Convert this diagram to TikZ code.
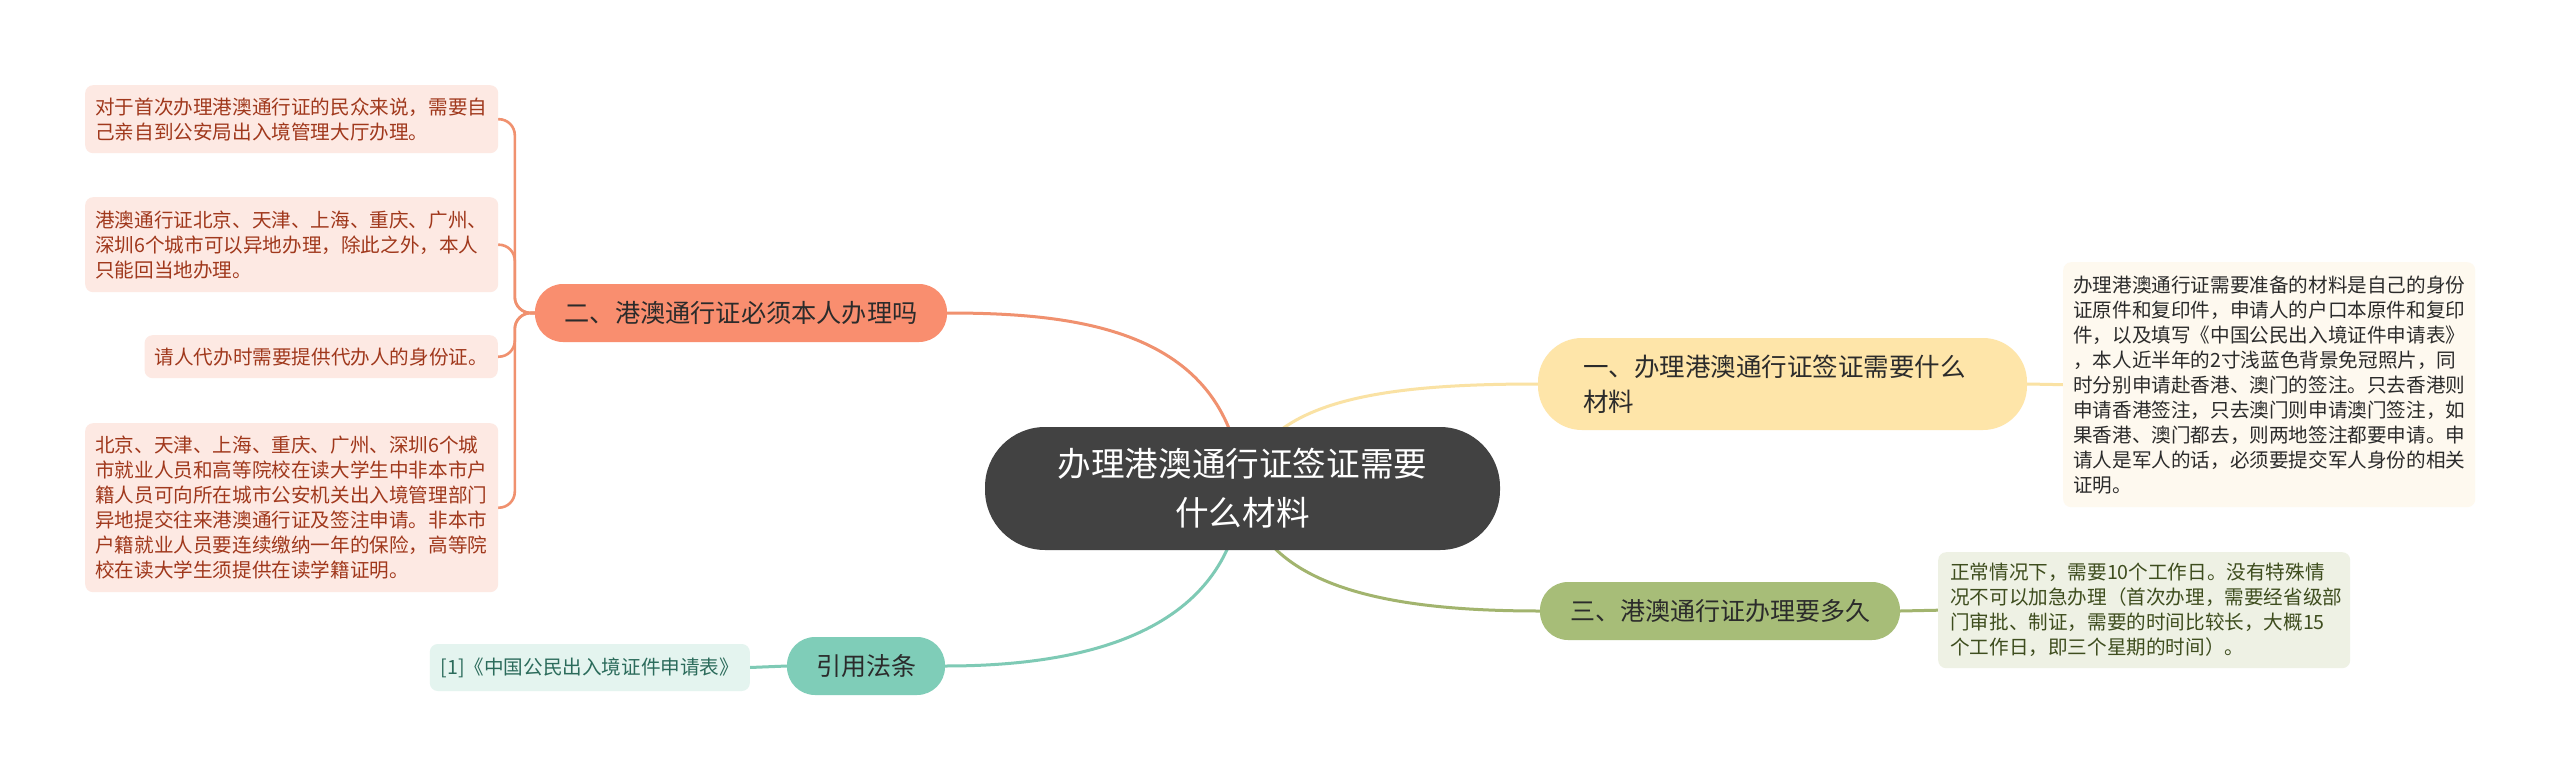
\documentclass[tikz,border=0pt]{standalone}
\usepackage{fontspec}
\setmainfont{Noto Sans CJK SC}
\usetikzlibrary{backgrounds}
\definecolor{centerfill}{HTML}{424242}
\definecolor{bsalmon}{HTML}{F98E6F}
\definecolor{lsalmon}{HTML}{F0916F}
\definecolor{byellow}{HTML}{FEE5A9}
\definecolor{lyellow}{HTML}{FAE2A4}
\definecolor{bolive}{HTML}{A7BD78}
\definecolor{lolive}{HTML}{A2B46E}
\definecolor{bteal}{HTML}{7FCDB8}
\definecolor{lteal}{HTML}{7ECAB5}
\definecolor{leafpink}{HTML}{FDE9E3}
\definecolor{leafred}{HTML}{A0381C}
\definecolor{leafcream}{HTML}{FEF9EF}
\definecolor{leafolive}{HTML}{EEF1E4}
\definecolor{olivetext}{HTML}{3E4D1E}
\definecolor{leafteal}{HTML}{E4F4EF}
\definecolor{tealtext}{HTML}{2B6B5B}
\definecolor{darktext}{HTML}{2B2B2B}
\tikzset{
  leafbox/.style={rounded corners=8pt, align=left, inner xsep=10pt, inner ysep=0pt,
    font=\fontsize{19.6}{25}\selectfont},
  leafL/.style={leafbox, fill=leafpink, text=leafred},
  branchbox/.style={inner sep=0pt, text=darktext, align=center},
  conn/.style={line width=3pt, line cap=round},
}
\begin{document}
\begin{tikzpicture}[x=1pt, y=-1pt]
\useasboundingbox (0,0) rectangle (2560,779);

% central
\node[fill=centerfill, text=white, rounded corners=60pt, minimum width=515pt, minimum height=123pt,
  inner sep=0pt, align=center, font=\fontsize{33.6}{49}\selectfont] (root) at (1242.5,488.5)
  {办理港澳通行证签证需要\\什么材料};

% branches
\node[branchbox, fill=bsalmon, rounded corners=28pt, minimum width=412pt, minimum height=58pt,
  font=\fontsize{25.2}{32}\selectfont] (b2) at (741,313) {二、港澳通行证必须本人办理吗};
\node[branchbox, fill=byellow, rounded corners=44pt, minimum height=92pt, inner xsep=45pt,
  text width=399pt, align=left, font=\fontsize{25.5}{35}\selectfont] (b1) at (1782.5,384)
  {一、办理港澳通行证签证需要什么\\材料};
\node[branchbox, fill=bolive, rounded corners=28pt, minimum width=360pt, minimum height=58pt,
  font=\fontsize{25}{32}\selectfont] (b3) at (1720,611) {三、港澳通行证办理要多久};
\node[branchbox, fill=bteal, rounded corners=28pt, minimum width=158pt, minimum height=58pt,
  font=\fontsize{25}{32}\selectfont] (b4) at (866,666) {引用法条};

% left leaves
\node[leafL, anchor=north west, text width=393pt, minimum height=68pt] (L1) at (85,85)
  {对于首次办理港澳通行证的民众来说，需要自\\己亲自到公安局出入境管理大厅办理。};
\node[leafL, anchor=north west, text width=393pt, minimum height=95pt] (L2) at (85,197)
  {港澳通行证北京、天津、上海、重庆、广州、\\深圳6个城市可以异地办理，除此之外，本人\\只能回当地办理。};
\node[leafL, anchor=north east, minimum height=43pt] (L3) at (498,335)
  {请人代办时需要提供代办人的身份证。};
\node[leafL, anchor=north west, text width=393pt, minimum height=169pt] (L4) at (85,423)
  {北京、天津、上海、重庆、广州、深圳6个城\\市就业人员和高等院校在读大学生中非本市户\\籍人员可向所在城市公安机关出入境管理部门\\异地提交往来港澳通行证及签注申请。非本市\\户籍就业人员要连续缴纳一年的保险，高等院\\校在读大学生须提供在读学籍证明。};

% right leaves
\node[leafbox, fill=leafcream, text=darktext, anchor=north west, text width=392pt, minimum height=245pt] (R1) at (2063,262)
  {办理港澳通行证需要准备的材料是自己的身份\\证原件和复印件，申请人的户口本原件和复印\\件，以及填写《中国公民出入境证件申请表》\\，本人近半年的2寸浅蓝色背景免冠照片，同\\时分别申请赴香港、澳门的签注。只去香港则\\申请香港签注，只去澳门则申请澳门签注，如\\果香港、澳门都去，则两地签注都要申请。申\\请人是军人的话，必须要提交军人身份的相关\\证明。};
\node[leafbox, fill=leafolive, text=olivetext, anchor=north west, inner xsep=12pt, text width=388pt, minimum height=116pt] (R3) at (1938,552)
  {正常情况下，需要10个工作日。没有特殊情\\况不可以加急办理（首次办理，需要经省级部\\门审批、制证，需要的时间比较长，大概15\\个工作日，即三个星期的时间）。};
\node[leafbox, fill=leafteal, text=tealtext, anchor=east, minimum height=47pt, minimum width=320pt,
  font=\fontsize{19.6}{25}\selectfont] (cite) at (750,667.5)
  {[1]《中国公民出入境证件申请表》};

\begin{pgfonlayer}{background}
  \fill[white] (0,0) rectangle (2560,779);
  % root to branches
  \draw[conn, lsalmon] (root.center) .. controls (1230,330) and (1080,313) .. (b2.east);
  \draw[conn, lyellow] (root.center) .. controls (1262,400) and (1380,384) .. (b1.west);
  \draw[conn, lolive] (root.center) .. controls (1262,585) and (1380,611) .. (b3.west);
  \draw[conn, lteal] (root.center) .. controls (1230,640) and (1070,666) .. (b4.east);
  % left leaves
  \draw[conn, lsalmon, line width=2.6pt, rounded corners=16pt] (b2.west) -- ++(-20,0) |- (L1.east);
  \draw[conn, lsalmon, line width=2.6pt, rounded corners=16pt] (b2.west) -- ++(-20,0) |- (L2.east);
  \draw[conn, lsalmon, line width=2.6pt, rounded corners=16pt] (b2.west) -- ++(-20,0) |- (L3.east);
  \draw[conn, lsalmon, line width=2.6pt, rounded corners=16pt] (b2.west) -- ++(-20,0) |- (L4.east);
  % right leaves
  \draw[conn, lyellow] (b1.east) -- (R1.west);
  \draw[conn, lolive] (b3.east) -- (R3.west);
  \draw[conn, lteal] (b4.west) -- (cite.east);
\end{pgfonlayer}
\end{tikzpicture}
\end{document}
